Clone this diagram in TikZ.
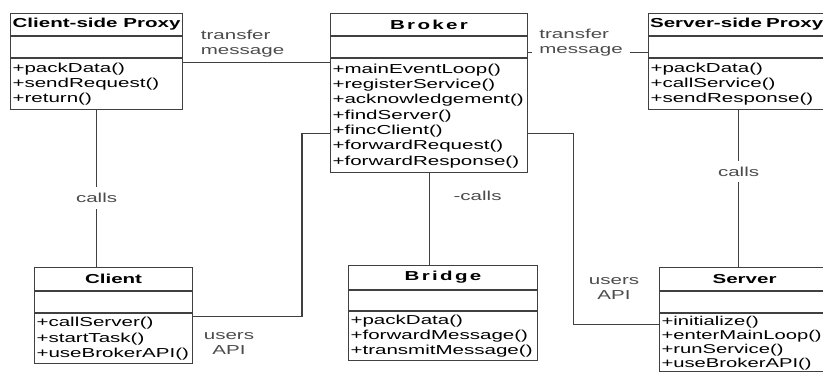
\documentclass[tikz,border=0pt]{standalone}
\usepackage{fontspec}
\setmainfont[FakeStretch=1.58]{Liberation Sans}
\newfontfamily\widefont[FakeStretch=1.58,LetterSpace=18]{Liberation Sans}
\usetikzlibrary{positioning}

\begin{document}
\begin{tikzpicture}[x=1pt,y=-1pt]
			\tikzstyle{head} = [draw=black!75, line width=1.1pt, minimum height=22pt, inner sep=0pt, font=\fontsize{13}{15.3}\selectfont\bfseries]
			\tikzstyle{attr} = [draw=black!75, line width=1.1pt, minimum height=21pt, inner sep=0pt]
			\tikzstyle{ops} = [draw=black!75, line width=1.1pt, inner xsep=2pt, inner ysep=0pt, align=left, font=\fontsize{13}{15.3}\selectfont]
			\tikzstyle{lbl} = [text=black!70, inner sep=1pt, font=\fontsize{13}{15}\selectfont]
			\tikzstyle{link} = [draw=black!75, line width=1.1pt]

			\useasboundingbox (0,0) rectangle (823,374);
			\clip (0,0) rectangle (823,374);
			\fill [white] (0,0) rectangle (823,374);

			\node [head, anchor=north west, minimum width=172pt] (cpx) at (10,13) {Client-side Proxy};
			\node [attr, below=0pt of cpx, minimum width=172pt] (cpxa) {};
			\node [ops, below=0pt of cpxa, text width=168pt, minimum height=51pt] (cpxo) {+packData()\\+sendRequest()\\+return()};

			\node [head, anchor=north west, minimum width=197pt] (bro) at (330,13) {\widefont Broker};
			\node [attr, below=0pt of bro, minimum width=197pt] (broa) {};
			\node [ops, below=0pt of broa, text width=193pt, minimum height=114pt] (broo) {+mainEventLoop()\\+registerService()\\+acknowledgement()\\+findServer()\\+fincClient()\\+forwardRequest()\\+forwardResponse()};

			\node [head, anchor=north west, text width=177pt, inner xsep=1.5pt, align=left] (ssp) at (648,13) {Server-side Proxy};
			\node [attr, below=0pt of ssp, minimum width=180pt] (sspa) {};
			\node [ops, below=0pt of sspa, text width=176pt, minimum height=51pt] (sspo) {+packData()\\+callService()\\+sendResponse()};

			\node [head, anchor=north west, minimum width=158pt, minimum height=23pt] (cli) at (34,267) {Client};
			\node [attr, below=0pt of cli, minimum width=158pt] (clia) {};
			\node [ops, below=0pt of clia, text width=154pt, minimum height=50pt] (clio) {+callServer()\\+startTask()\\+useBrokerAPI()};

			\node [head, anchor=north west, minimum width=189pt, minimum height=24pt] (bri) at (348,265) {\widefont Bridge};
			\node [attr, below=0pt of bri, minimum width=189pt, minimum height=20pt] (bria) {};
			\node [ops, below=0pt of bria, text width=185pt, minimum height=49pt] (brio) {+packData()\\+forwardMessage()\\+transmitMessage()};

			\node [head, anchor=north west, minimum width=170pt, minimum height=23pt] (srv) at (659,267) {Server};
			\node [attr, below=0pt of srv, minimum width=170pt] (srva) {};
			\node [ops, below=0pt of srva, text width=166pt, minimum height=58pt, font=\fontsize{12.8}{14}\selectfont] (srvo) {+initialize()\\+enterMainLoop()\\+runService()\\+useBrokerAPI()};

			\draw [link] ([yshift=-4pt]cpxo.north east) -- node [lbl, align=left, above=3pt, xshift=-14pt] (tm1) {transfer\\message} ([yshift=-4pt]broo.north west);
			\draw [link] ([yshift=-16pt]broa.north east) -- node [lbl, align=left, fill=white, inner xsep=7pt, xshift=-7pt, yshift=9pt] (tm2) {transfer\\message} ([yshift=-16pt]sspa.north west);

			\draw [link] (cpxo.south) -- node [lbl, fill=white, inner ysep=6pt, pos=0.56] (c1) {calls} (cpxo.south |- cli.north);
			\draw [link] (broo.south) -- node [lbl, pos=0.25, right=23pt] (c2) {-calls} (broo.south |- bri.north);
			\draw [link] (sspo.south) -- node [lbl, fill=white, inner ysep=6pt, pos=0.39] (c3) {calls} (sspo.south |- srv.north);

			\draw [link] ([yshift=-3pt]clio.north east) -| ([xshift=-28pt, yshift=-75pt]broo.north west) -- ([yshift=-75pt]broo.north west);
			\node [lbl, align=center] (ua1) at (229,344) {users\\API};

			\draw [link] ([yshift=-75pt]broo.north east) -- ++(45,0) |- ([yshift=-11pt]srvo.north west);
			\node [lbl, align=center] (ua2) at (614,289) {users\\API};
\end{tikzpicture}
\end{document}
